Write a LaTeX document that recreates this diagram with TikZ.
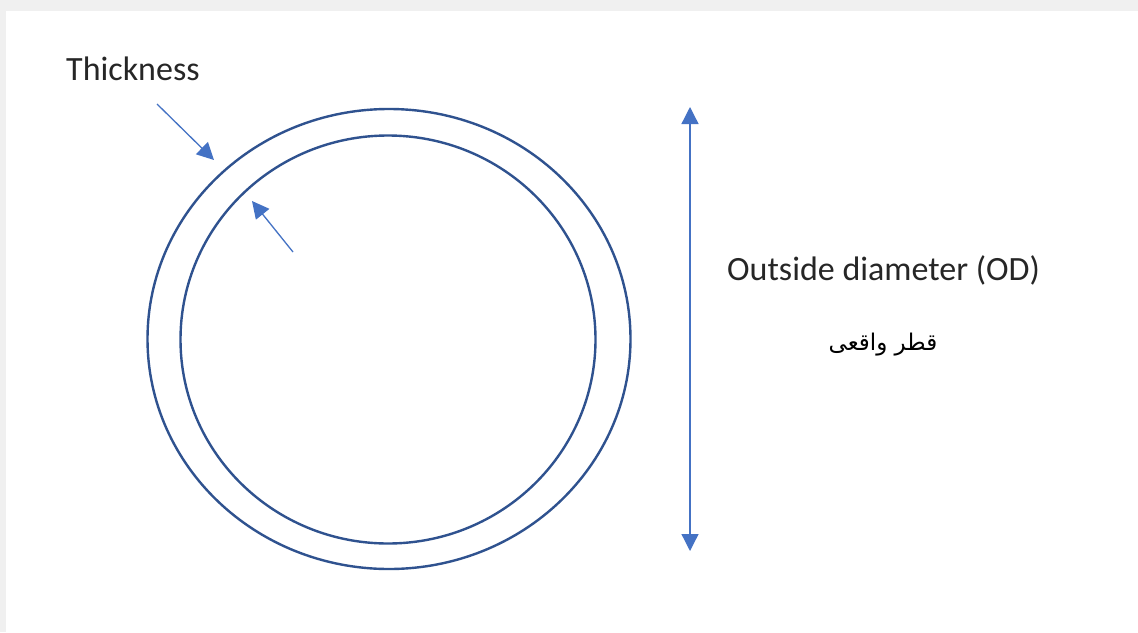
\documentclass[tikz,border=0pt]{standalone}
\usepackage{fontspec}
\setmainfont{Carlito}
\newfontfamily\arabicfont[Script=Arabic]{DejaVu Sans}
\TeXXeTstate=1
\usetikzlibrary{arrows.meta,shapes.geometric}
\definecolor{ringblue}{HTML}{2F528F}
\definecolor{arrowblue}{HTML}{4472C4}
\definecolor{bggray}{HTML}{F0F0F0}
\tikzset{
  ring/.style={ellipse, draw=ringblue, line width=2.4pt, inner sep=0pt},
  thinarrow/.style={draw=arrowblue, line width=1.3pt, -{Triangle[length=17pt,width=17pt]}},
  label/.style={inner sep=0pt, font=\fontsize{34}{40}\selectfont, text=black!85},
}
\begin{document}
\begin{tikzpicture}[x=1pt,y=-1pt]
\useasboundingbox (0,0) rectangle (1138,632);
\fill[bggray] (0,0) rectangle (1138,632);
\fill[white] (6,11) rectangle (1138,632);
\node[ring, minimum width=483pt, minimum height=460pt] (outer) at (389,339) {};
\node[ring, minimum width=415pt, minimum height=408pt] (inner) at (388,339.5) {};
\node[label, anchor=base west] (thick) at (66,80) {Thickness};
\coordinate (a1s) at (157,104);
\coordinate (a1e) at (214,160);
\coordinate (a2s) at (293,252);
\coordinate (a2e) at (252,201);
\draw[thinarrow] (a1s) -- (a1e);
\draw[thinarrow] (a2s) -- (a2e);
\coordinate (odtop) at (690,107);
\coordinate (odbot) at (690,551);
\draw[thinarrow, {Triangle[length=17pt,width=17pt]}-{Triangle[length=17pt,width=17pt]}] (odtop) -- (odbot);
\node[label, anchor=base west] (od) at (727,280) {Outside diameter (OD)};
\node[inner sep=0pt, anchor=base, font=\fontsize{23}{30}\selectfont, text=black] (fa) at (883,350) {\arabicfont\beginR قطر واقعی\endR};
\end{tikzpicture}
\end{document}
